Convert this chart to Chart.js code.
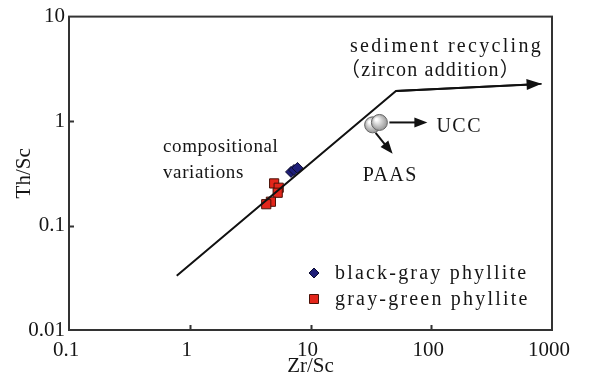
<!DOCTYPE html>
<html>
<head>
<meta charset="utf-8">
<script src="https://cdn.jsdelivr.net/npm/chart.js@4/dist/chart.umd.min.js"></script>
<style>
  body { margin: 0; background: #fff; }
  #wrap { width: 598px; height: 375px; }
</style>
</head>
<body>
<div id="wrap"><canvas id="myChart" width="598" height="375"></canvas></div>
<script>
const xTicks = [0.1, 1, 10, 100, 1000];
const yTicks = [0.01, 0.1, 1, 10];

// trend: compositional variations -> sediment recycling
const trendZr = [0.78, 51, 820];
const trendTh = [0.033, 1.94, 2.27];

const blackGrayZr = [6.9, 7.3, 7.8];
const blackGrayTh = [0.326, 0.34, 0.356];

const grayGreenZr = [5.0, 5.45, 5.35, 4.7, 4.3];
const grayGreenTh = [0.253, 0.23, 0.206, 0.169, 0.16];

const refNames = ['PAAS', 'UCC'];
const refZr = [32.7, 37.2];
const refTh = [0.92, 0.97];

const serif = '"Liberation Serif", "Noto Sans CJK SC", serif';
const ink = '#151515';

function toPoints(xs, ys) {
    return xs.map((x, i) => ({ x: x, y: ys[i] }));
}

function arrow(ctx, x1, y1, x2, y2, head, w) {
    const a = Math.atan2(y2 - y1, x2 - x1);
    const c = Math.cos(a), s = Math.sin(a);
    ctx.beginPath();
    ctx.moveTo(x1, y1);
    ctx.lineTo(x2 - c * head * 0.7, y2 - s * head * 0.7);
    ctx.stroke();
    ctx.beginPath();
    ctx.moveTo(x2, y2);
    ctx.lineTo(x2 - c * head + s * w / 2, y2 - s * head - c * w / 2);
    ctx.lineTo(x2 - c * head - s * w / 2, y2 - s * head + c * w / 2);
    ctx.closePath();
    ctx.fill();
}

function sphere(ctx) {
    const chart = ctx.chart;
    if (ctx.type !== 'data' || !chart.chartArea) return '#bbb';
    const px = chart.scales.x.getPixelForValue(ctx.raw.x);
    const py = chart.scales.y.getPixelForValue(ctx.raw.y);
    const g = chart.ctx.createRadialGradient(px - 3, py - 3, 1, px, py, 9);
    g.addColorStop(0, '#ffffff');
    g.addColorStop(1, '#8c8c8c');
    return g;
}

function text(ctx, str, x, y, size, spacing) {
    ctx.font = size + 'px ' + serif;
    ctx.letterSpacing = (spacing || 0) + 'px';
    ctx.fillText(str, x, y);
    ctx.letterSpacing = '0px';
}

const decor = {
    id: 'decor',
    beforeDatasetsDraw(chart) {
        const { ctx, chartArea: a, scales } = chart;
        ctx.save();
        ctx.strokeStyle = '#333';
        ctx.lineWidth = 2;
        ctx.strokeRect(a.left, a.top, a.right - a.left, a.bottom - a.top);
        // inward tick marks
        ctx.beginPath();
        xTicks.slice(1, -1).forEach(v => {
            const x = Math.round(scales.x.getPixelForValue(v)) + 0.5;
            ctx.moveTo(x, a.bottom);
            ctx.lineTo(x, a.bottom - 5);
        });
        yTicks.slice(1, -1).forEach(v => {
            const y = Math.round(scales.y.getPixelForValue(v)) + 0.5;
            ctx.moveTo(a.left, y);
            ctx.lineTo(a.left + 5, y);
        });
        ctx.stroke();
        ctx.restore();
    },
    afterDatasetsDraw(chart) {
        const { ctx, scales } = chart;
        const px = v => scales.x.getPixelForValue(v);
        const py = v => scales.y.getPixelForValue(v);
        ctx.save();
        ctx.fillStyle = '#111';
        ctx.strokeStyle = '#111';
        ctx.lineWidth = 2;

        // arrowhead at the end of the trend line
        const n = trendZr.length;
        arrow(ctx, px(trendZr[n - 2]), py(trendTh[n - 2]), px(trendZr[n - 1]), py(trendTh[n - 1]), 15, 11);

        // PAAS / UCC pointers
        const paX = px(refZr[0]), paY = py(refTh[0]);
        const ucX = px(refZr[1]), ucY = py(refTh[1]);
        arrow(ctx, ucX + 10, ucY, ucX + 48, ucY, 13, 10);
        arrow(ctx, paX + 3, paY + 8, paX + 20, paY + 29, 13, 10);

        ctx.fillStyle = ink;
        ctx.textBaseline = 'alphabetic';
        text(ctx, refNames[1], ucX + 57, ucY + 10, 20, 1.5);
        text(ctx, refNames[0], paX - 10, paY + 56, 20, 1.5);

        text(ctx, 'compositional', 163, 152, 19, 0.6);
        text(ctx, 'variations', 163, 178, 19, 0.6);
        text(ctx, 'sediment recycling', 350, 52, 20, 2.3);
        text(ctx, '（zircon addition）', 340, 76, 20, 1.2);

        // legend
        const items = chart.data.datasets.filter(d => d.inLegend);
        items.forEach((d, i) => {
            const lx = 314, ly = 273 + i * 26;
            ctx.fillStyle = d.backgroundColor;
            ctx.strokeStyle = d.borderColor;
            ctx.lineWidth = 1;
            ctx.beginPath();
            if (d.pointStyle === 'rectRot') {
                const r = 5;
                ctx.moveTo(lx, ly - r);
                ctx.lineTo(lx + r, ly);
                ctx.lineTo(lx, ly + r);
                ctx.lineTo(lx - r, ly);
                ctx.closePath();
            } else {
                ctx.rect(lx - 4.5, ly - 4.5, 9, 9);
            }
            ctx.fill();
            ctx.stroke();
            ctx.fillStyle = ink;
            ctx.textBaseline = 'middle';
            text(ctx, d.label, 335, ly + 1, 20, 2.2);
        });
        ctx.restore();
    }
};

new Chart(document.getElementById('myChart'), {
    type: 'scatter',
    data: {
        datasets: [
            {
                label: 'trend',
                type: 'line',
                data: toPoints(trendZr, trendTh),
                borderColor: '#111',
                borderWidth: 2,
                pointRadius: 0,
                fill: false
            },
            {
                label: 'reference',
                data: toPoints(refZr, refTh),
                pointStyle: 'circle',
                pointRadius: 8,
                backgroundColor: sphere,
                borderColor: '#666',
                borderWidth: 1
            },
            {
                label: 'black-gray phyllite',
                inLegend: true,
                data: toPoints(blackGrayZr, blackGrayTh),
                pointStyle: 'rectRot',
                pointRadius: 5.5,
                backgroundColor: '#1e1e78',
                borderColor: '#0b0b30',
                borderWidth: 1
            },
            {
                label: 'gray-green phyllite',
                inLegend: true,
                data: toPoints(grayGreenZr, grayGreenTh),
                pointStyle: 'rect',
                pointRadius: 6.5,
                backgroundColor: '#e3261b',
                borderColor: '#4a1208',
                borderWidth: 1
            }
        ]
    },
    options: {
        responsive: false,
        animation: false,
        layout: { padding: { top: 14, right: 46, left: 0, bottom: 0 } },
        plugins: {
            legend: { display: false },
            tooltip: { enabled: false }
        },
        scales: {
            x: {
                type: 'logarithmic',
                min: 0.1,
                max: 1000,
                afterBuildTicks: s => { s.ticks = xTicks.map(v => ({ value: v })); },
                afterFit: s => { s.height = 45; },
                grid: { display: false, drawTicks: false },
                border: { display: false },
                ticks: {
                    padding: 8,
                    labelOffset: -3,
                    color: ink,
                    font: { family: serif, size: 21 },
                    callback: v => String(v)
                },
                title: {
                    display: true,
                    text: 'Zr/Sc',
                    color: ink,
                    padding: 0,
                    font: { family: serif, size: 21, lineHeight: 0.8 }
                }
            },
            y: {
                type: 'logarithmic',
                min: 0.01,
                max: 10,
                afterBuildTicks: s => { s.ticks = yTicks.map(v => ({ value: v })); },
                afterFit: s => { s.width = 69; },
                grid: { display: false, drawTicks: false },
                border: { display: false },
                ticks: {
                    padding: 4,
                    color: ink,
                    font: { family: serif, size: 21 },
                    callback: v => String(v)
                },
                title: {
                    display: true,
                    text: 'Th/Sc',
                    color: ink,
                    padding: { top: 14, bottom: 0 },
                    font: { family: serif, size: 21, lineHeight: 1 }
                }
            }
        }
    },
    plugins: [decor]
});
</script>
</body>
</html>
